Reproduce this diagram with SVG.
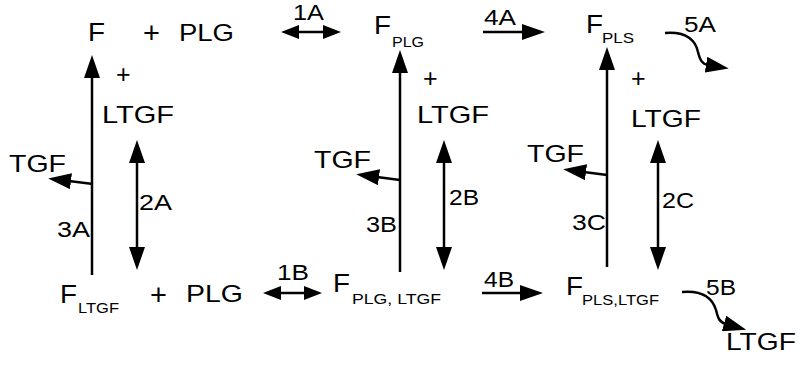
<svg xmlns="http://www.w3.org/2000/svg" width="798" height="367" viewBox="0 0 798 367">
<style>
text{font-family:"Liberation Sans",Arial,sans-serif;fill:#000}
.b{font-size:24px}
.f{font-size:25px}
.p{font-size:25px}
.pb{font-size:29px}
.s{font-size:14px}
.l{font-size:22px}
.c line,.c path{stroke:#000;stroke-width:2.5;fill:none}
</style>
<defs>
<marker id="h" markerUnits="userSpaceOnUse" markerWidth="24" markerHeight="16" viewBox="0 0 24 16" refX="2" refY="8" orient="auto-start-reverse"><path d="M0,0 L23,8 L0,16 z" fill="#000"/></marker>
<marker id="hs" markerUnits="userSpaceOnUse" markerWidth="19" markerHeight="14" viewBox="0 0 19 14" refX="2" refY="7" orient="auto-start-reverse"><path d="M0,0 L18,7 L0,14 z" fill="#000"/></marker>
</defs>
<g class="c" id="connectors">
<line x1="92" y1="275" x2="92" y2="76" marker-end="url(#h)"/>
<line x1="400" y1="272" x2="400" y2="71" marker-end="url(#h)"/>
<line x1="607" y1="267" x2="607" y2="68" marker-end="url(#h)"/>
<line x1="137" y1="161" x2="137" y2="249" marker-start="url(#h)" marker-end="url(#h)"/>
<line x1="444" y1="161" x2="444" y2="249" marker-start="url(#h)" marker-end="url(#h)"/>
<line x1="658" y1="161" x2="658" y2="249" marker-start="url(#h)" marker-end="url(#h)"/>
<line x1="93" y1="184" x2="69" y2="181" marker-end="url(#h)"/>
<line x1="400" y1="180" x2="377" y2="177" marker-end="url(#h)"/>
<line x1="607" y1="175" x2="584" y2="172" marker-end="url(#h)"/>
<line x1="297" y1="32" x2="325" y2="32" marker-start="url(#hs)" marker-end="url(#hs)"/>
<line x1="279" y1="293" x2="306" y2="293" marker-start="url(#hs)" marker-end="url(#hs)"/>
<line x1="483" y1="32" x2="524" y2="32" marker-end="url(#h)"/>
<line x1="482" y1="293" x2="522" y2="293" marker-end="url(#h)"/>
<path d="M665,33 C688,31 696,42 698,52 C700,60 702,64 708,65" marker-end="url(#h)"/>
<path d="M682,292 C705,290 713,300 716,310 C718,318 719,322 726,324" marker-end="url(#h)"/>
</g>
<g id="F"><text class="f" x="88" y="41" textLength="17" lengthAdjust="spacingAndGlyphs">F</text></g>
<g id="plus1"><text class="pb" x="143" y="43">+</text></g>
<g id="PLG1"><text class="b" x="179" y="41" textLength="55" lengthAdjust="spacingAndGlyphs">PLG</text></g>
<g id="plus2"><text class="p" x="116" y="83">+</text></g>
<g id="LTGF1"><text class="b" x="102" y="123" textLength="72" lengthAdjust="spacingAndGlyphs">LTGF</text></g>
<g id="TGF1"><text class="b" x="9" y="172" textLength="57" lengthAdjust="spacingAndGlyphs">TGF</text></g>
<g id="FLTGF"><text class="f" x="60" y="303" textLength="17" lengthAdjust="spacingAndGlyphs">F</text><text class="s" x="78" y="313" textLength="41" lengthAdjust="spacingAndGlyphs">LTGF</text></g>
<g id="plus3"><text class="pb" x="150" y="305">+</text></g>
<g id="PLG2"><text class="b" x="186" y="302" textLength="57" lengthAdjust="spacingAndGlyphs">PLG</text></g>
<g id="FPLG"><text class="f" x="374" y="34" textLength="17" lengthAdjust="spacingAndGlyphs">F</text><text class="s" x="392" y="47" textLength="32" lengthAdjust="spacingAndGlyphs">PLG</text></g>
<g id="plus4"><text class="p" x="423" y="87">+</text></g>
<g id="LTGF2"><text class="b" x="417" y="123" textLength="72" lengthAdjust="spacingAndGlyphs">LTGF</text></g>
<g id="TGF2"><text class="b" x="314" y="168" textLength="57" lengthAdjust="spacingAndGlyphs">TGF</text></g>
<g id="FPLGLTGF"><text class="f" x="333" y="292" textLength="17" lengthAdjust="spacingAndGlyphs">F</text><text class="s" x="352" y="304" textLength="89" lengthAdjust="spacingAndGlyphs">PLG, LTGF</text></g>
<g id="FPLS"><text class="f" x="586" y="33" textLength="17" lengthAdjust="spacingAndGlyphs">F</text><text class="s" x="602" y="43" textLength="32" lengthAdjust="spacingAndGlyphs">PLS</text></g>
<g id="plus5"><text class="p" x="631" y="87">+</text></g>
<g id="LTGF3"><text class="b" x="631" y="127" textLength="70" lengthAdjust="spacingAndGlyphs">LTGF</text></g>
<g id="TGF3"><text class="b" x="527" y="162" textLength="57" lengthAdjust="spacingAndGlyphs">TGF</text></g>
<g id="FPLSLTGF"><text class="f" x="566" y="295" textLength="17" lengthAdjust="spacingAndGlyphs">F</text><text class="s" x="582" y="305" textLength="77" lengthAdjust="spacingAndGlyphs">PLS,LTGF</text></g>
<g id="LTGF4"><text class="b" x="726" y="350" textLength="70" lengthAdjust="spacingAndGlyphs">LTGF</text></g>
<g id="labels">
<text class="l" x="293" y="20" textLength="31" lengthAdjust="spacingAndGlyphs">1A</text>
<text class="l" x="484" y="25" textLength="32" lengthAdjust="spacingAndGlyphs">4A</text>
<text class="l" x="684" y="32" textLength="32" lengthAdjust="spacingAndGlyphs">5A</text>
<text class="l" x="139" y="210" textLength="33" lengthAdjust="spacingAndGlyphs">2A</text>
<text class="l" x="57" y="237" textLength="33" lengthAdjust="spacingAndGlyphs">3A</text>
<text class="l" x="449" y="205" textLength="30" lengthAdjust="spacingAndGlyphs">2B</text>
<text class="l" x="366" y="232" textLength="31" lengthAdjust="spacingAndGlyphs">3B</text>
<text class="l" x="662" y="208" textLength="32" lengthAdjust="spacingAndGlyphs">2C</text>
<text class="l" x="572" y="230" textLength="34" lengthAdjust="spacingAndGlyphs">3C</text>
<text class="l" x="277" y="280" textLength="32" lengthAdjust="spacingAndGlyphs">1B</text>
<text class="l" x="484" y="287" textLength="30" lengthAdjust="spacingAndGlyphs">4B</text>
<text class="l" x="706" y="295" textLength="30" lengthAdjust="spacingAndGlyphs">5B</text>
</g>
</svg>
